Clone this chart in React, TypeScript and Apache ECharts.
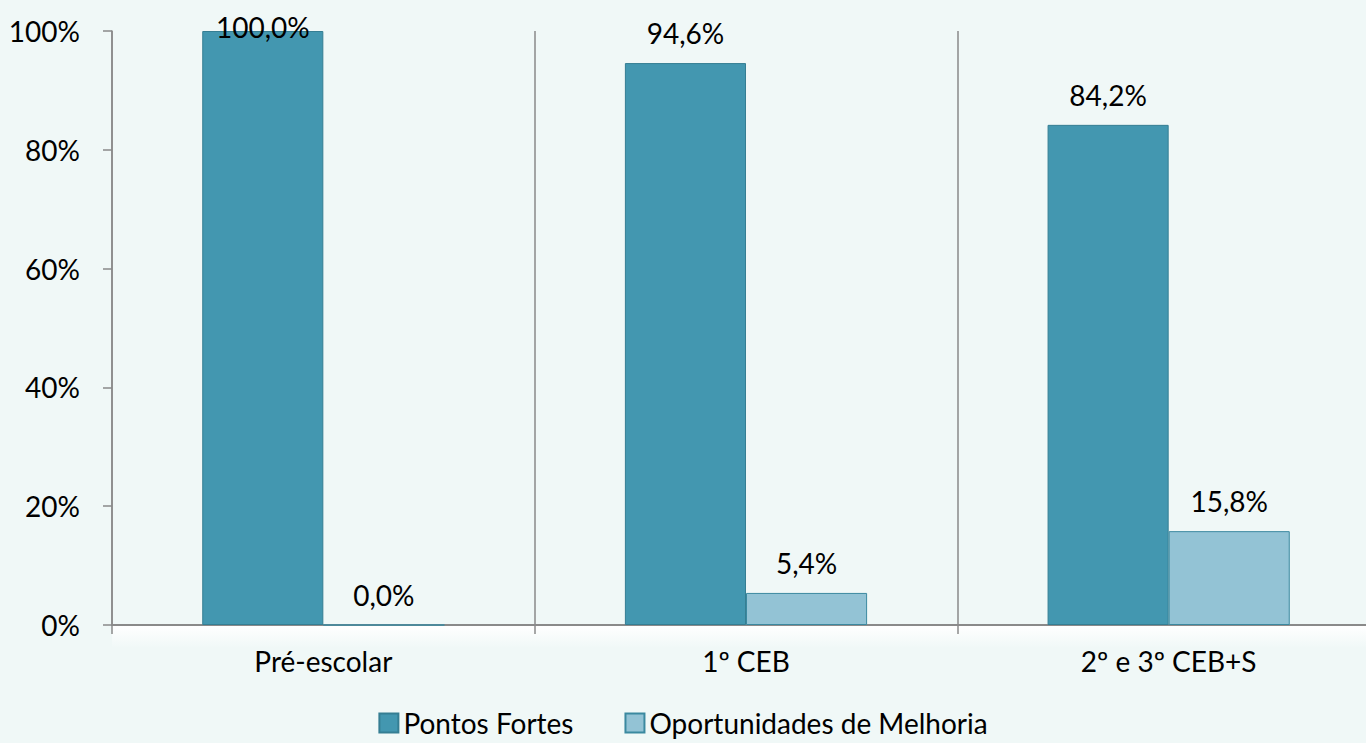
import React, { useEffect, useRef } from "react";
import * as echarts from "echarts";

const categories = ["Pré-escolar", "1º CEB", "2º e 3º CEB+S"];
const pontosFortes = [100.0, 94.6, 84.2];
const oportunidades = [0.0, 5.4, 15.8];
const seriesNames = ["Pontos Fortes", "Oportunidades de Melhoria"];
const yTicks = { min: 0, max: 100, interval: 20 };

const BG = "#F0F8F7";
const FONT = "Lato, 'Noto Sans', sans-serif";
const AXIS = "#8A8A8A";

const fmt = (v: number) => v.toFixed(1).replace(".", ",") + "%";

const toData = (arr: number[]) =>
  arr.map((v) =>
    v >= yTicks.max ? { value: v, label: { offset: [0, 26] } } : { value: v }
  );

export default function App() {
  const ref = useRef<HTMLDivElement>(null);
  useEffect(() => {
    if (!ref.current) return;
    const chart = echarts.init(ref.current, undefined, { renderer: "svg" });
    const labelCfg = {
      show: true,
      position: "top" as const,
      distance: 16,
      fontSize: 28,
      fontFamily: FONT,
      color: "#000",
      formatter: (p: any) => fmt(p.value),
    };
    chart.setOption({
      animation: false,
      backgroundColor: BG,
      textStyle: { fontFamily: FONT },
      grid: { left: 112, top: 31, width: 1268, height: 594, outerBoundsMode: "none", containLabel: false },
      graphic: [
        {
          type: "rect",
          left: 112,
          top: 626,
          z: 0,
          shape: { width: 1254, height: 22 },
          style: {
            fill: new echarts.graphic.LinearGradient(0, 0, 0, 1, [
              { offset: 0, color: "#FFFFFF" },
              { offset: 1, color: BG },
            ]),
          },
          silent: true,
        },
      ],
      legend: {
        data: seriesNames,
        left: "center",
        top: 704,
        icon: "rect",
        itemWidth: 19,
        itemHeight: 19,
        itemGap: 51,
        textStyle: { fontSize: 28, fontFamily: FONT, color: "#000" },
      },
      xAxis: {
        type: "category",
        data: categories,
        axisLine: { show: true, lineStyle: { color: AXIS, width: 2 } },
        axisTick: { show: true, interval: 0, length: 9, lineStyle: { color: AXIS, width: 1.5 } },
        splitLine: { show: true, interval: 0, lineStyle: { color: AXIS, width: 1.5 } },
        axisLabel: { margin: 22, fontSize: 28, fontFamily: FONT, color: "#000", interval: 0 },
      },
      yAxis: {
        type: "value",
        min: yTicks.min,
        max: yTicks.max,
        interval: yTicks.interval,
        axisLine: { show: true, lineStyle: { color: AXIS, width: 1.5 } },
        axisTick: { show: true, length: 9, lineStyle: { color: AXIS, width: 1.5 } },
        splitLine: { show: false },
        axisLabel: {
          margin: 32,
          fontSize: 28,
          fontFamily: FONT,
          color: "#000",
          formatter: "{value}%",
        },
      },
      series: [
        {
          name: seriesNames[0],
          type: "bar",
          data: toData(pontosFortes),
          barGap: "0%",
          barCategoryGap: "42.7%",
          itemStyle: { color: "#4397B0", borderColor: "#357E93", borderWidth: 1 },
          label: labelCfg,
          z: 3,
        },
        {
          name: seriesNames[1],
          type: "bar",
          data: toData(oportunidades),
          barGap: "0%",
          barCategoryGap: "42.7%",
          itemStyle: { color: "#93C3D5", borderColor: "#3B89A0", borderWidth: 1 },
          label: labelCfg,
          z: 3,
        },
      ],
    });
    return () => chart.dispose();
  }, []);
  return (
    <div
      ref={ref}
      style={{ position: "fixed", left: 0, top: 0, width: 1366, height: 743, overflow: "hidden" }}
    />
  );
}
